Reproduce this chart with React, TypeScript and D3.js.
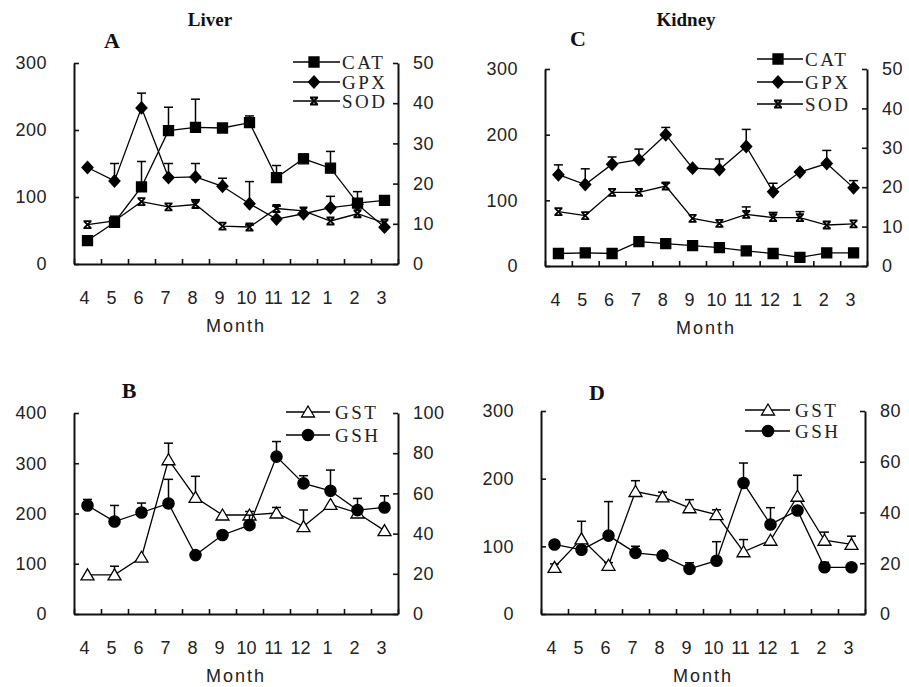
import { useEffect, useRef } from "react";
import * as d3 from "d3";

const months = ["4", "5", "6", "7", "8", "9", "10", "11", "12", "1", "2", "3"];

// Liver (panel A)
const liverCAT = [35, 62, 115, 199, 204, 203, 211, 129, 157, 143, 91, 95];
const liverCATErr = [0, 0, 38, 35, 42, 0, 10, 18, 7, 25, 17, 0];
const liverGPX = [144, 124, 233, 129, 130, 116, 90, 67, 75, 84, 89, 55];
const liverGPXErr = [0, 26, 22, 21, 20, 12, 33, 0, 0, 17, 0, 0];
const liverSOD = [9.8, 10.7, 15.5, 14.2, 14.8, 9.4, 9.2, 13.8, 13.2, 10.7, 12.5, 10.2];
const liverSODErr = [0, 1.2, 0, 0, 1.2, 0, 0.5, 0.6, 0, 0, 0, 0];

// Kidney (panel C)
const kidneyCAT = [19, 20, 19, 37, 34, 31, 28, 23, 19, 13, 20, 20];
const kidneyCATErr = [0, 0, 0, 0, 0, 0, 0, 0, 0, 0, 0, 0];
const kidneyGPX = [139, 124, 155, 162, 200, 149, 147, 182, 113, 143, 156, 119];
const kidneyGPXErr = [15, 24, 11, 16, 11, 0, 16, 26, 13, 0, 20, 11];
const kidneySOD = [13.8, 12.8, 18.7, 18.7, 20.3, 12.1, 10.8, 13.1, 12.3, 12.3, 10.4, 10.7];
const kidneySODErr = [0, 0, 0, 0, 0.8, 0, 0, 1.9, 1.3, 1.5, 0, 0];

// Liver (panel B)
const liverGST = [78, 78, 113, 307, 232, 197, 197, 201, 174, 218, 201, 166];
const liverGSTErr = [0, 17, 0, 33, 42, 0, 7, 11, 33, 0, 0, 0];
const liverGSH = [54, 46, 50.5, 55, 29.3, 39.3, 44.2, 78.3, 65, 61.3, 51.7, 53];
const liverGSHErr = [3, 8, 4.7, 12, 0, 0, 5, 7.5, 3.8, 10.3, 5.8, 5.8];

// Kidney (panel D)
const kidneyGST = [69, 111, 72, 181, 173, 157, 147, 92, 109, 174, 109, 103];
const kidneyGSTErr = [5, 26, 4, 16, 7, 12, 7, 18, 0, 31, 12, 12];
const kidneyGSH = [27.4, 25.3, 30.9, 24.1, 23, 17.8, 21, 51.6, 35.3, 40.8, 18.4, 18.4];
const kidneyGSHErr = [0, 0, 13.4, 2.6, 0, 2.4, 7.5, 7.9, 6.6, 0, 2, 0];

type Series = {
  name: string;
  values: number[];
  err: number[];
  axis: "left" | "right";
  marker: string;
};

function markerPath(kind: string) {
  switch (kind) {
    case "square":
      return "M-5,-5H5V5H-5Z";
    case "diamond":
      return "M0,-6L5.5,0L0,6L-5.5,0Z";
    case "triangle":
      return "M0,-6L6.5,5H-6.5Z";
    case "circle":
      return d3.symbol(d3.symbolCircle, 100)();
    default:
      return "M-4,-3.5H4M-4,3.5H4M-3.5,-3.5L3.5,3.5M3.5,-3.5L-3.5,3.5";
  }
}

function Marker({ kind, x, y }: { kind: string; x: number; y: number }) {
  const fill = kind === "triangle" ? "white" : kind === "times" ? "none" : "black";
  return (
    <path
      d={markerPath(kind) as string}
      transform={`translate(${x},${y})`}
      fill={fill}
      stroke="black"
      strokeWidth={kind === "times" ? 1.8 : 1.3}
    />
  );
}

function Panel({ x0, x1, y0, y1, leftMax, leftStep, rightMax, rightStep, series, legend, letter, title }: any) {
  const leftRef = useRef(null);
  const rightRef = useRef(null);
  const bottomRef = useRef(null);

  const x = d3.scaleBand(months, [x0, x1]);
  const xb = d3.scaleLinear([0, months.length], [x0, x1]);
  const yL = d3.scaleLinear([0, leftMax], [y1, y0]);
  const yR = d3.scaleLinear([0, rightMax], [y1, y0]);
  const cx = (m: string) => (x(m) as number) + x.bandwidth() / 2;

  useEffect(() => {
    const style = (g: any) => {
      g.attr("font-size", 18).attr("font-family", "'Liberation Sans', Arial, sans-serif");
      g.select(".domain").attr("stroke-width", 2).attr("stroke", "#111");
      g.selectAll(".tick line").attr("stroke-width", 1.6).attr("stroke", "#111");
      g.selectAll(".tick text").attr("fill", "#222").attr("letter-spacing", 0.5);
    };
    d3.select(leftRef.current)
      .attr("transform", `translate(${x0},0)`)
      .call(
        d3.axisLeft(yL).tickValues(d3.range(0, leftMax + 1, leftStep)).tickSize(-5).tickSizeOuter(0).tickPadding(27)
      )
      .call(style);
    d3.select(rightRef.current)
      .attr("transform", `translate(${x1},0)`)
      .call(
        d3.axisRight(yR).tickValues(d3.range(0, rightMax + 1, rightStep)).tickSize(-5).tickSizeOuter(0).tickPadding(15)
      )
      .call(style);
    d3.select(bottomRef.current)
      .attr("transform", `translate(0,${y1})`)
      .call(d3.axisBottom(xb).tickValues(d3.range(months.length + 1)).tickSize(-5).tickSizeOuter(0).tickFormat(() => ""))
      .call(style);
  }, [x0, x1, y0, y1, leftMax, rightMax]);

  return (
    <g>
      <g ref={leftRef}></g>
      <g ref={rightRef}></g>
      <g ref={bottomRef}></g>
      <g fontFamily="'Liberation Sans', Arial, sans-serif" fontSize={18} fill="#222" textAnchor="middle">
        {months.map((m) => (
          <text key={m} x={cx(m) - 3} y={y1 + 34} dy="0.35em">
            {m}
          </text>
        ))}
        <text x={(x0 + x1) / 2} y={y1 + 62} dy="0.35em" letterSpacing={2}>
          Month
        </text>
      </g>
      {series.map((s: Series) => {
        const y = s.axis === "left" ? yL : yR;
        const line = d3
          .line<number>()
          .x((_, i) => cx(months[i]))
          .y((d) => y(d));
        return (
          <g key={s.name}>
            <path d={line(s.values) as string} fill="none" stroke="black" strokeWidth={1.3} />
            {s.values.map((v, i) =>
              s.err[i] > 0 ? (
                <g key={i} stroke="black" strokeWidth={1.5}>
                  <line x1={cx(months[i])} x2={cx(months[i])} y1={y(v)} y2={y(v + s.err[i])} />
                  <line x1={cx(months[i]) - 4.5} x2={cx(months[i]) + 4.5} y1={y(v + s.err[i])} y2={y(v + s.err[i])} />
                </g>
              ) : null
            )}
            {s.values.map((v, i) => (
              <Marker key={i} kind={s.marker} x={cx(months[i])} y={y(v)} />
            ))}
          </g>
        );
      })}
      <g fontFamily="'Liberation Serif', 'Times New Roman', serif" fontSize={19} fill="#222" letterSpacing={2.5}>
        {series.map((s: Series, i: number) => (
          <g key={s.name}>
            <line x1={legend.lx1} x2={legend.lx2} y1={legend.rows[i]} y2={legend.rows[i]} stroke="black" strokeWidth={1.5} />
            <Marker kind={s.marker} x={legend.mx} y={legend.rows[i]} />
            <text x={legend.tx} y={legend.rows[i]} dy="0.35em">
              {s.name}
            </text>
          </g>
        ))}
      </g>
      <g fontFamily="'Liberation Serif', 'Times New Roman', serif" fontWeight="bold" fill="#111" textAnchor="middle">
        <text x={letter.x} y={letter.y} dy="0.35em" fontSize={22}>
          {letter.text}
        </text>
        {title ? (
          <text x={title.x} y={title.y} dy="0.35em" fontSize={19}>
            {title.text}
          </text>
        ) : null}
      </g>
    </g>
  );
}

export default function App() {
  const seriesA: Series[] = [
    { name: "CAT", values: liverCAT, err: liverCATErr, axis: "left", marker: "square" },
    { name: "GPX", values: liverGPX, err: liverGPXErr, axis: "left", marker: "diamond" },
    { name: "SOD", values: liverSOD, err: liverSODErr, axis: "right", marker: "times" },
  ];
  const seriesC: Series[] = [
    { name: "CAT", values: kidneyCAT, err: kidneyCATErr, axis: "left", marker: "square" },
    { name: "GPX", values: kidneyGPX, err: kidneyGPXErr, axis: "left", marker: "diamond" },
    { name: "SOD", values: kidneySOD, err: kidneySODErr, axis: "right", marker: "times" },
  ];
  const seriesB: Series[] = [
    { name: "GST", values: liverGST, err: liverGSTErr, axis: "left", marker: "triangle" },
    { name: "GSH", values: liverGSH, err: liverGSHErr, axis: "right", marker: "circle" },
  ];
  const seriesD: Series[] = [
    { name: "GST", values: kidneyGST, err: kidneyGSTErr, axis: "left", marker: "triangle" },
    { name: "GSH", values: kidneyGSH, err: kidneyGSHErr, axis: "right", marker: "circle" },
  ];

  return (
    <svg width={909} height={687} style={{ position: "absolute", left: 0, top: 0, background: "white" }}>
      <Panel
        x0={74} x1={398} y0={63} y1={264}
        leftMax={300} leftStep={100} rightMax={50} rightStep={10}
        series={seriesA}
        legend={{ lx1: 293, lx2: 340, mx: 314, tx: 342, rows: [62, 82, 101] }}
        letter={{ text: "A", x: 112, y: 40 }}
        title={{ text: "Liver", x: 210, y: 19 }}
      />
      <Panel
        x0={545} x1={867} y0={69} y1={266}
        leftMax={300} leftStep={100} rightMax={50} rightStep={10}
        series={seriesC}
        legend={{ lx1: 757, lx2: 803, mx: 778, tx: 805, rows: [59, 82, 104] }}
        letter={{ text: "C", x: 578, y: 38 }}
        title={{ text: "Kidney", x: 686, y: 19 }}
      />
      <Panel
        x0={74} x1={398} y0={413} y1={614}
        leftMax={400} leftStep={100} rightMax={100} rightStep={20}
        series={seriesB}
        legend={{ lx1: 286, lx2: 330, mx: 308, tx: 335, rows: [412, 435] }}
        letter={{ text: "B", x: 129, y: 390 }}
      />
      <Panel
        x0={541} x1={865} y0={411} y1={614}
        leftMax={300} leftStep={100} rightMax={80} rightStep={20}
        series={seriesD}
        legend={{ lx1: 745, lx2: 790, mx: 768, tx: 795, rows: [410, 431] }}
        letter={{ text: "D", x: 597, y: 392 }}
      />
    </svg>
  );
}
